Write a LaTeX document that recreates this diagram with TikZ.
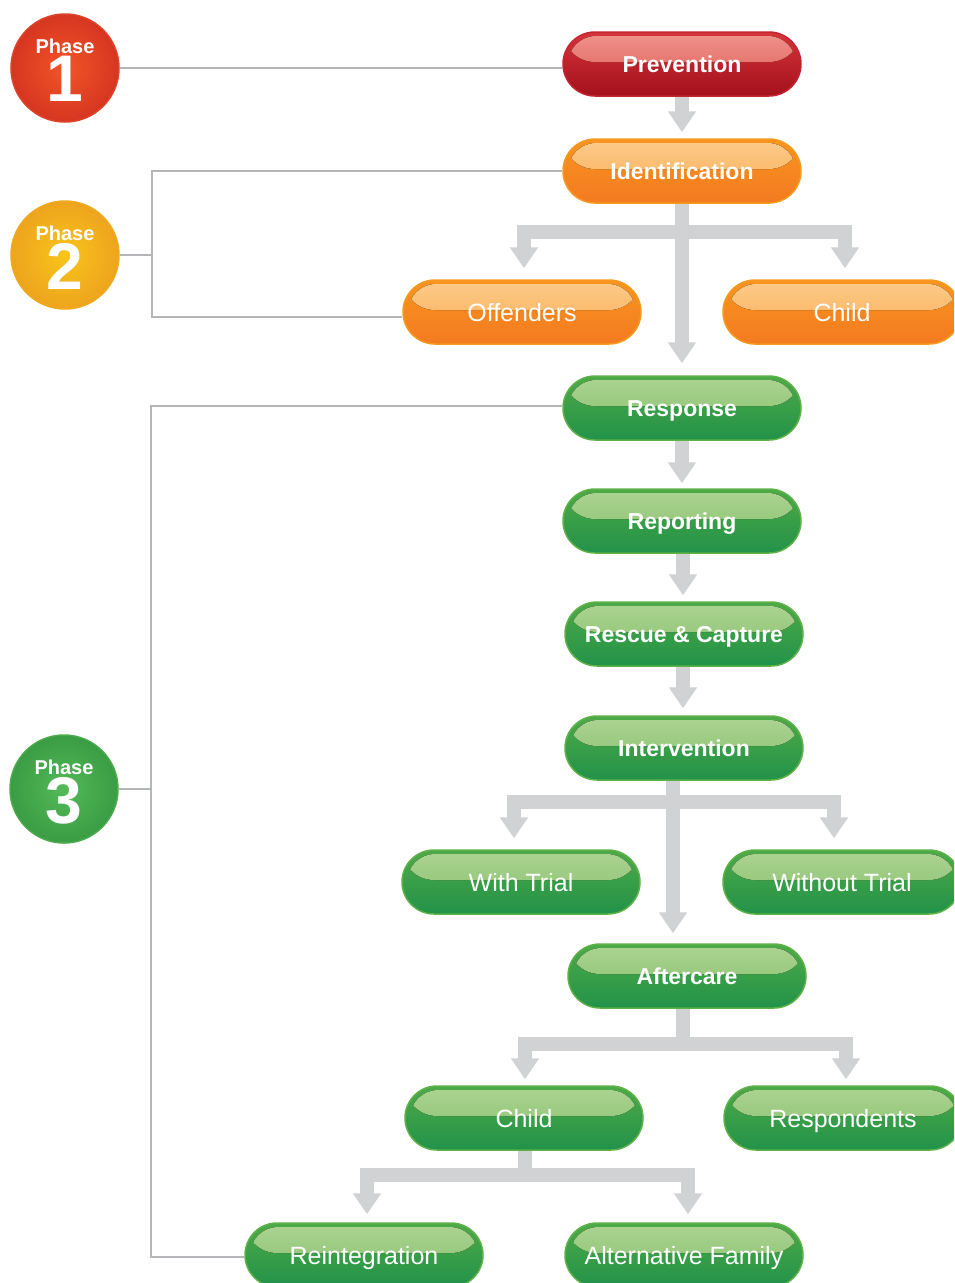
\documentclass[tikz,border=0pt]{standalone}
\usepackage{fontspec}
\setmainfont{Liberation Sans}
\usetikzlibrary{arrows.meta,calc}
\definecolor{redT}{HTML}{D6343A}
\definecolor{redB}{HTML}{A3101C}
\definecolor{redE}{HTML}{C42630}
\definecolor{redG}{HTML}{EE9088}
\definecolor{redH}{HTML}{DD5A55}
\definecolor{orT}{HTML}{F8951F}
\definecolor{orB}{HTML}{F37A20}
\definecolor{orE}{HTML}{F59A1E}
\definecolor{orG}{HTML}{FCC886}
\definecolor{orH}{HTML}{F9AE55}
\definecolor{grT}{HTML}{4EAA46}
\definecolor{grB}{HTML}{22924A}
\definecolor{grE}{HTML}{5DB247}
\definecolor{grG}{HTML}{AAD290}
\definecolor{grH}{HTML}{86BF6C}
\definecolor{arrowgray}{HTML}{D1D2D4}
\definecolor{linegray}{HTML}{B5B6B9}
\newcommand{\phaselabel}[1]{\begin{tabular}[t]{@{}c@{}}Phase\\[-3.5pt]\fontsize{66}{66}\selectfont #1\end{tabular}}
\tikzset{
  pill/.style={rectangle, rounded corners=32pt, minimum width=238pt, minimum height=64pt, inner sep=0pt, text=white, line width=1.5pt},
  glossy/.style 2 args={path picture={
      \begin{scope}
      \clip ([yshift=2pt]path picture bounding box.west) rectangle (path picture bounding box.north east);
      \fill[rounded corners=28pt, top color=#1, bottom color=#2]
        ([xshift=5pt,yshift=-4pt]path picture bounding box.north west) rectangle ([xshift=-5pt,yshift=4pt]path picture bounding box.south east);
      \end{scope}}},
  redpill/.style={pill, draw=redE, top color=redT, bottom color=redB, glossy={redG}{redH}},
  orangepill/.style={pill, draw=orE, top color=orT, bottom color=orB, glossy={orG}{orH}},
  greenpill/.style={pill, draw=grE, top color=grT, bottom color=grB, glossy={grG}{grH}},
  mainlabel/.style={font=\fontsize{23}{26}\selectfont\bfseries, text height=16.5pt, text depth=0pt},
  sublabel/.style={font=\fontsize{25}{28}\selectfont, text height=18pt, text depth=0pt},
  bigarrow/.style={draw=arrowgray, line width=14pt, -{Triangle[width=27pt,length=21pt]}, line join=miter},
  thinline/.style={draw=linegray, line width=2.2pt},
  phase/.style={circle, minimum size=108pt, inner sep=0pt, line width=1.5pt, shading=radial},
  phasetxt/.style={text=white, font=\fontsize{20}{22}\selectfont\bfseries, inner sep=0pt, anchor=base}
}
\begin{document}
\begin{tikzpicture}[x=1pt,y=-1pt]
\useasboundingbox (0,0) rectangle (954,1283);
\clip (0,0) rectangle (954,1283);
\fill[white] (0,0) rectangle (954,1283);

% phase circles
\node[phase, draw={rgb,255:red,222;green,66;blue,40}, inner color={rgb,255:red,242;green,84;blue,40}, outer color={rgb,255:red,214;green,54;blue,32}] (ph1) at (65,68) {};
\node[phasetxt] (ph1t) at (65,53) {\phaselabel{1}};
\node[phase, draw={rgb,255:red,240;green,170;blue,30}, inner color={rgb,255:red,248;green,196;blue,26}, outer color={rgb,255:red,238;green,164;blue,30}] (ph2) at (65,255) {};
\node[phasetxt] (ph2t) at (65,240) {\phaselabel{2}};
\node[phase, draw={rgb,255:red,74;green,170;blue,76}, inner color={rgb,255:red,84;green,186;blue,88}, outer color={rgb,255:red,58;green,156;blue,68}] (ph3) at (64,789) {};
\node[phasetxt] (ph3t) at (64,774) {\phaselabel{3}};

% pills
\node[redpill, mainlabel] (prev) at (682,64) {Prevention};
\node[orangepill, mainlabel] (ident) at (682,171) {Identification};
\node[orangepill, sublabel] (off) at (522,312) {Offenders};
\node[orangepill, sublabel] (childA) at (842,312) {Child};
\node[greenpill, mainlabel] (resp) at (682,408) {Response};
\node[greenpill, mainlabel] (rep) at (682,521) {Reporting};
\node[greenpill, mainlabel] (resc) at (684,634) {Rescue \& Capture};
\node[greenpill, mainlabel] (inter) at (684,748) {Intervention};
\node[greenpill, sublabel] (with) at (521,882) {With Trial};
\node[greenpill, sublabel] (without) at (842,882) {Without Trial};
\node[greenpill, mainlabel] (after) at (687,976) {Aftercare};
\node[greenpill, sublabel] (childB) at (524,1118) {Child};
\node[greenpill, sublabel] (resp2) at (843,1118) {Respondents};
\node[greenpill, sublabel] (reint) at (364,1255) {Reintegration};
\node[greenpill, sublabel] (alt) at (684,1255) {Alternative Family};

% thin phase connectors
\coordinate (b2) at (152,254);
\coordinate (b3) at (151,789);
\draw[thinline] (ph1.east) -- (ph1.east -| prev.west);
\draw[thinline] (ph2.east) -- (ph2.east -| b2);
\draw[thinline] (ident.west) -| (b2) |- ([yshift=-5pt]off.west);
\draw[thinline] (ph3.east) -- (ph3.east -| b3);
\draw[thinline] ([yshift=2pt]resp.west) -| (b3) |- ([yshift=-2pt]reint.west);

% big arrows
\draw[bigarrow, shorten >=6pt] (prev.south) -- (ident.north);
\draw[bigarrow, shorten >=11pt] (ident.south) -- ++(0,28) -| ([xshift=2pt]off.north);
\draw[bigarrow, shorten >=11pt] (ident.south) -- ++(0,28) -| ([xshift=3pt]childA.north);
\draw[bigarrow, shorten >=12pt] (ident.south) -- (resp.north);
\draw[bigarrow, shorten >=5pt] (resp.south) -- (rep.north);
\draw[bigarrow, shorten >=6pt] ([xshift=1pt]rep.south) -- ([xshift=-1pt]resc.north);
\draw[bigarrow, shorten >=7pt] ([xshift=-1pt]resc.south) -- ([xshift=-1pt]inter.north);
\draw[bigarrow, shorten >=11pt] ([xshift=-11pt]inter.south) -- ++(0,21) -| ([xshift=-7pt]with.north);
\draw[bigarrow, shorten >=11pt] ([xshift=-11pt]inter.south) -- ++(0,21) -| ([xshift=-8pt]without.north);
\draw[bigarrow, shorten >=10pt] ([xshift=-11pt]inter.south) -- ([xshift=-14pt]after.north);
\draw[bigarrow, shorten >=6pt] ([xshift=-4pt]after.south) -- ++(0,35) -| ([xshift=1pt]childB.north);
\draw[bigarrow, shorten >=6pt] ([xshift=-4pt]after.south) -- ++(0,35) -| ([xshift=3pt]resp2.north);
\draw[bigarrow, shorten >=8pt] ([xshift=1pt]childB.south) -- ++(0,24) -| ([xshift=3pt]reint.north);
\draw[bigarrow, shorten >=8pt] ([xshift=1pt]childB.south) -- ++(0,24) -| ([xshift=4pt]alt.north);
\end{tikzpicture}
\end{document}
